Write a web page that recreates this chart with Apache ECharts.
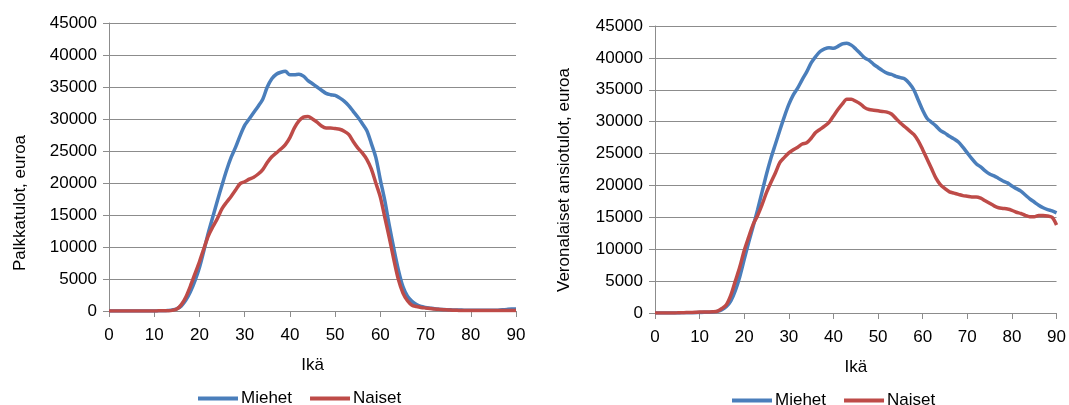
<!DOCTYPE html>
<html>
<head>
<meta charset="utf-8">
<script src="https://cdn.jsdelivr.net/npm/echarts@6/dist/echarts.min.js"></script>
<style>
html,body{margin:0;padding:0;background:#fff;}
#chart{width:1069px;height:405px;}
</style>
</head>
<body>
<div id="chart"></div>
<script>
// Ages 0..90
const ages = Array.from({length: 91}, (_, i) => i);
const xTicks = [0, 10, 20, 30, 40, 50, 60, 70, 80, 90];
const seriesNames = ['Miehet', 'Naiset'];
const leftYName = 'Palkkatulot, euroa';
const rightYName = 'Veronalaiset ansiotulot, euroa';
const xName = 'Ikä';

// Palkkatulot (left chart)
const palkkaMiehet = [
  0,0,0,0,0,0,0,0,0,0,
  0,20,40,80,150,350,800,1700,3000,4700,
  6800,9500,12300,14800,17300,19700,22000,24000,25600,27400,
  29000,30000,31000,32000,33100,35000,36300,37000,37300,37450,
  36900,36900,37000,36700,36000,35500,35000,34500,34000,33800,
  33700,33300,32800,32100,31200,30300,29300,28200,26200,24000,
  20500,17200,13300,9700,6400,3800,2300,1500,1000,700,
  550,450,350,280,230,200,170,150,140,130,
  120,120,120,120,120,120,130,180,250,300,
  300
];
const palkkaNaiset = [
  0,0,0,0,0,0,0,0,0,0,
  10,20,30,50,100,300,1000,2200,3900,5800,
  7700,9800,11800,13200,14500,16000,17000,17900,18900,19900,
  20200,20600,20900,21400,22100,23200,24100,24700,25300,26000,
  27100,28600,29700,30300,30400,30000,29500,28900,28600,28600,
  28500,28400,28100,27600,26500,25500,24700,23700,22200,20000,
  17800,14600,11400,8000,4900,2800,1600,900,700,550,
  470,400,320,260,210,170,120,100,80,80,
  80,80,80,80,80,80,80,80,80,80,
  80
];

// Veronalaiset ansiotulot (right chart)
const veroMiehet = [
  0,0,0,0,0,10,20,30,40,50,
  80,100,120,150,250,500,1000,1900,3500,5700,
  8400,11100,13600,16200,19000,21800,24300,26500,28700,30800,
  32700,34200,35300,36600,37800,39200,40200,41000,41400,41600,
  41500,41800,42200,42300,42000,41400,40700,40000,39600,39000,
  38500,38000,37600,37400,37100,36900,36700,36000,35000,33400,
  31800,30500,29900,29300,28600,28200,27700,27300,26800,26000,
  25100,24200,23400,22900,22300,21800,21500,21100,20700,20400,
  19900,19500,19100,18500,17900,17400,16900,16500,16200,16000,
  15700
];
const veroNaiset = [
  0,0,0,0,10,20,40,60,80,100,
  150,150,170,200,300,700,1300,2800,5000,7200,
  9800,11900,13900,15300,17000,18900,20500,22000,23600,24400,
  25100,25600,26000,26500,26700,27400,28300,28800,29300,29900,
  30900,31900,32800,33500,33500,33200,32800,32200,31900,31800,
  31700,31600,31500,31200,30500,29800,29200,28600,28000,27000,
  25600,24100,22600,21100,20100,19500,19000,18800,18600,18400,
  18300,18200,18200,18000,17600,17200,16800,16500,16400,16300,
  16100,15800,15600,15300,15100,15100,15300,15300,15200,15000,
  13800
];

const FONT = 'Liberation Sans';
const TXT = '#000';
const BLUE = '#4A7EBB';
const RED = '#BE4B48';
const GRID = '#8c8c8c';

const pairs = (arr) => ages.map((a, i) => [a, arr[i]]);

function xAxisCfg(idx) {
  return {
    gridIndex: idx, type: 'value', min: 0, max: 90, interval: 10,
    name: xName, nameLocation: 'middle', nameGap: 46,
    nameTextStyle: {fontFamily: FONT, fontSize: 17, color: TXT},
    axisLine: {show: true, lineStyle: {color: GRID, width: 1}},
    axisTick: {show: true, length: 6, lineStyle: {color: GRID}},
    axisLabel: {fontFamily: FONT, fontSize: 17, color: TXT, margin: 16,
      formatter: v => xTicks.includes(v) ? String(v) : ''},
    splitLine: {show: false}
  };
}
function yAxisCfg(idx) {
  return {
    gridIndex: idx, type: 'value', min: 0, max: 45000, interval: 5000,
    axisLine: {show: true, lineStyle: {color: GRID, width: 1}},
    axisTick: {show: true, length: 6, lineStyle: {color: GRID}},
    axisLabel: {fontFamily: FONT, fontSize: 17, color: TXT, margin: 12,
      formatter: v => String(v)},
    splitLine: {show: true, lineStyle: {color: GRID, width: 1}}
  };
}
function lineSeries(name, data, color, idx) {
  return {
    name, type: 'line', xAxisIndex: idx, yAxisIndex: idx,
    data: pairs(data), showSymbol: false, symbol: 'none', smooth: 0.3,
    lineStyle: {color, width: 3.5}, itemStyle: {color},
    animation: false, clip: true
  };
}

const legendIcon = 'path://M0,0 L40,0 L40,4 L0,4 Z';
const chart = echarts.init(document.getElementById('chart'));
chart.setOption({
  animation: false,
  backgroundColor: '#fff',
  grid: [
    {left: 109, right: 553, top: 23, bottom: 94},
    {left: 655, right: 10, top: 26, bottom: 92}
  ],
  xAxis: [xAxisCfg(0), xAxisCfg(1)],
  yAxis: [yAxisCfg(0), yAxisCfg(1)],
  legend: [
    {left: 193, top: 385, itemWidth: 40, itemHeight: 18, itemGap: 18, icon: legendIcon,
     data: [{name: seriesNames[0], itemStyle: {color: BLUE}}, {name: seriesNames[1], itemStyle: {color: RED}}],
     textStyle: {fontFamily: FONT, fontSize: 17, color: TXT, padding: [0,0,0,-2]}},
    {left: 727, top: 387, itemWidth: 40, itemHeight: 18, itemGap: 18, icon: legendIcon,
     data: [{name: seriesNames[0], itemStyle: {color: BLUE}}, {name: seriesNames[1], itemStyle: {color: RED}}],
     textStyle: {fontFamily: FONT, fontSize: 17, color: TXT, padding: [0,0,0,-2]}}
  ],
  graphic: [
    {type: 'text', x: 20, y: 203, rotation: Math.PI / 2,
     style: {text: leftYName, font: '17px "' + FONT + '"', fill: TXT, textAlign: 'center', textVerticalAlign: 'middle'}},
    {type: 'text', x: 564, y: 180, rotation: Math.PI / 2,
     style: {text: rightYName, font: '17px "' + FONT + '"', fill: TXT, textAlign: 'center', textVerticalAlign: 'middle'}}
  ],
  series: [
    lineSeries(seriesNames[0], palkkaMiehet, BLUE, 0),
    lineSeries(seriesNames[1], palkkaNaiset, RED, 0),
    lineSeries(seriesNames[0], veroMiehet, BLUE, 1),
    lineSeries(seriesNames[1], veroNaiset, RED, 1)
  ]
});
</script>
</body>
</html>
